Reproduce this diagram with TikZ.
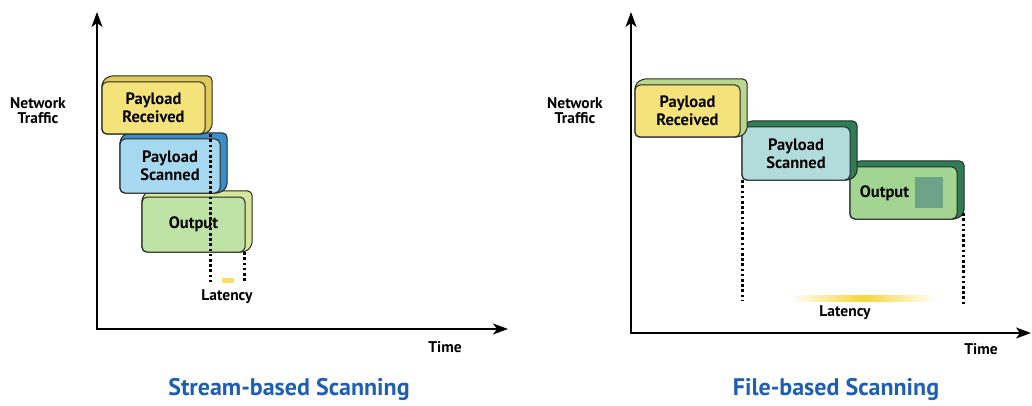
\documentclass[tikz,border=0pt]{standalone}
\usepackage{fontspec}
\setmainfont{PT Sans}
\usetikzlibrary{arrows.meta}
\usetikzlibrary{positioning}
\usetikzlibrary{calc}
\definecolor{recfront}{HTML}{F4E27A}
\definecolor{recside}{HTML}{E0CB58}
\definecolor{scnfront}{HTML}{A6D8EF}
\definecolor{scnside}{HTML}{3A8FC9}
\definecolor{outfront}{HTML}{BFE3A4}
\definecolor{outside}{HTML}{D6E79A}
\definecolor{fscnfront}{HTML}{B2DCDB}
\definecolor{foutfront}{HTML}{A2D591}
\definecolor{fside}{HTML}{2F7D55}
\definecolor{fgreen}{HTML}{B9D88C}
\definecolor{titleblue}{HTML}{1F5FB0}
\definecolor{latyellow}{HTML}{F5D63A}
\newcommand{\slab}[7]{\node(#1back)[slabghost,minimum width=#3,minimum height=#4] at ($(#2)+(7,-6)$) {};
  \node(#1)[slabghost,minimum width=#3,minimum height=#4] at (#2) {};
  \draw[slabedge,fill=#6] (#1.north west) -- (#1back.north west) -- (#1back.north east)
    -- (#1back.south east) -- (#1.south east) -- (#1.south west) -- cycle;
  \node[slab,fill=#5,minimum width=#3,minimum height=#4] at (#2) {#7}}

\begin{document}
\begin{tikzpicture}[
        x=1pt,y=-1pt,
        every node/.style={font=\bfseries},
        slabghost/.style={rectangle,inner sep=0pt},
        slabedge/.style={draw=black!85,line width=1pt,rounded corners=5pt,line join=round},
        slab/.style={rectangle,rounded corners=5pt,draw=black!85,line width=1pt,
                     inner sep=0pt,align=center,font=\bfseries\fontsize{16.5}{18}\selectfont},
        axis/.style={line width=1.6pt,-{Stealth[length=15pt,width=11pt,inset=4pt]}},
        latline/.style={line width=3pt,dash pattern=on 2.6pt off 2.6pt,black},
        axlabel/.style={align=center,font=\bfseries\fontsize{15.5}{17}\selectfont},
        title/.style={text=titleblue,font=\bfseries\fontsize{24}{27}\selectfont}
      ]
      \useasboundingbox (0,0) rectangle (1032,406);

      % stream-based scanning
      \coordinate (oA) at (97,329);
      \coordinate (yA) at (97,12);
      \coordinate (xA) at (508,329);
      \draw[axis] (oA) -- (yA);
      \draw[axis] ([xshift=-0.8pt]oA) -- (xA);
      \node(netA)[axlabel] at (38,111) {Network\\[-2pt]Traffic};
      \node(timeA)[axlabel] at (445,347) {Time};
      \node(titleA)[title] at (289,389) {Stream-based Scanning};

      \slab{outA}{193.5,224.5}{103}{55}{outfront}{outside}{Output};
      \slab{scnA}{170,166}{100}{54}{scnfront}{scnside}{Payload\\Scanned};
      \slab{recA}{153.5,108}{103}{52}{recfront}{recside}{Payload\\Received};

      \coordinate (latA1) at (210,282);
      \coordinate (latA2) at (244,282);
      \draw[latline] (latA1 |- recA.south) -- (latA1);
      \draw[latline] (latA2 |- outA.south) -- (latA2);
      \fill[latyellow!80] (222,278) rectangle (234,283);
      \node(latA)[axlabel] at (227,297) {Latency};

      % file-based scanning
      \coordinate (oB) at (631,333);
      \coordinate (yB) at (631,12);
      \coordinate (xB) at (1031,333);
      \draw[axis] (oB) -- (yB);
      \draw[axis] ([xshift=-0.8pt]oB) -- (xB);
      \node(netB)[axlabel] at (575,111) {Network\\[-2pt]Traffic};
      \node(timeB)[axlabel] at (981,349) {Time};
      \node(titleB)[title] at (836,389) {File-based Scanning};

      \slab{outB}{903.5,193}{107}{52}{foutfront}{fside}{Output\hspace{38pt}};
      \node(outBsq)[rectangle,fill=fside!70,minimum width=28pt,minimum height=31pt,inner sep=0pt] at (929,192.5) {};
      \slab{scnB}{796,153.5}{108}{53}{fscnfront}{fside}{Payload\\Scanned};
      \slab{recB}{687.5,111}{105}{52}{recfront}{fgreen}{Payload\\Received};

      \coordinate (latB1) at (742,300);
      \coordinate (latB2) at (963,306);
      \draw[latline] (latB1 |- scnB.south) -- (latB1);
      \draw[latline] (latB2 |- outBback.south) -- (latB2);
      \shade[left color=white,right color=white,middle color=latyellow] (790,295) rectangle (935,301);
      \node(latB)[axlabel] at (845,313) {Latency};
\end{tikzpicture}
\end{document}
